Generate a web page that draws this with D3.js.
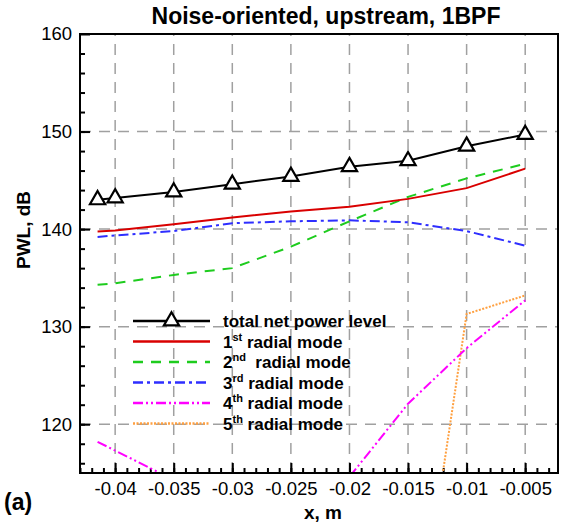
<!DOCTYPE html>
<html><head><meta charset="utf-8">
<script src="https://cdn.jsdelivr.net/npm/d3@7/dist/d3.min.js"></script>
<style>body{margin:0;background:#fff}svg{display:block;font-family:"Liberation Sans",Arial,sans-serif}</style>
</head><body>
<script>
const xs = [-0.0415, -0.04, -0.035, -0.03, -0.025, -0.02, -0.015, -0.01, -0.005];
const total = [143.0, 143.2, 143.8, 144.6, 145.4, 146.4, 147.0, 148.5, 149.7];
const mode1 = [139.75, 139.85, 140.5, 141.2, 141.8, 142.3, 143.1, 144.2, 146.2];
const mode2 = [134.3, 134.45, 135.3, 136.0, 138.2, 140.8, 143.3, 145.2, 146.7];
const mode3 = [139.2, 139.35, 139.8, 140.6, 140.8, 140.9, 140.7, 139.8, 138.3];
const mode4 = [118.2, 117.3, 114.3, 112.0, 111.0, 114.6, 122.1, 127.8, 132.7];
const mode5 = [96.0, 95.0, 93.5, 92.5, 92.0, 91.5, 91.2, 131.3, 133.2];
const xTicks = [-0.04, -0.035, -0.03, -0.025, -0.02, -0.015, -0.01, -0.005];
const xTickLabels = ["-0.04", "-0.035", "-0.03", "-0.025", "-0.02", "-0.015", "-0.01", "-0.005"];
const yTicks = [120, 130, 140, 150, 160];
const yTickLabels = ["120", "130", "140", "150", "160"];
const legendNames = [["total net power level", "", ""], ["1", "st", " radial mode"], ["2", "nd", "  radial mode"], ["3", "rd", " radial mode"], ["4", "th", " radial mode"], ["5", "th", " radial mode"]];

const W = 561, H = 523;
const L = 80, R = 558, T = 34, B = 473;
const svg = d3.select("body").append("svg").attr("width", W).attr("height", H);
const x = d3.scaleLinear().domain([-0.043, -0.0022]).range([L, R]);
const y = d3.scaleLinear().domain([115, 160]).range([B, T]);

svg.append("defs").append("clipPath").attr("id", "clip")
  .append("rect").attr("x", L).attr("y", T).attr("width", R - L).attr("height", B - T);

// grid
const grid = svg.append("g").attr("stroke", "#a0a0a0").attr("stroke-width", 1.5).attr("stroke-dasharray", "11,8");
grid.selectAll("line.vx").data(xTicks).join("line")
  .attr("x1", d => x(d)).attr("x2", d => x(d)).attr("y1", B).attr("y2", T);
grid.selectAll("line.hy").data(yTicks.filter(d => d > 115 && d < 160)).join("line")
  .attr("y1", d => y(d)).attr("y2", d => y(d)).attr("x1", L).attr("x2", R);

// axes (inward ticks)
const xMinor = d3.range(-0.043, -0.0022, 0.001).map(v => Math.round(v * 1000) / 1000).filter(v => v >= -0.043 && v <= -0.0022);
const yMinor = d3.range(116, 160, 2);
const xAxis = d3.axisBottom(x).tickValues(xTicks).tickSize(-10).tickFormat((d, i) => xTickLabels[i]).tickPadding(9);
const xAxisMinor = d3.axisBottom(x).tickValues(xMinor).tickSize(-5).tickFormat("");
const yAxis = d3.axisLeft(y).tickValues(yTicks).tickSize(-10).tickFormat((d, i) => yTickLabels[i]).tickPadding(8);
const yAxisMinor = d3.axisLeft(y).tickValues(yMinor).tickSize(-5).tickFormat("");

function styleAxis(g) {
  g.select(".domain").remove();
  g.selectAll(".tick line").attr("stroke", "#000").attr("stroke-width", 2);
  g.selectAll("text").attr("font-size", 18.5).attr("fill", "#000").attr("font-family", "Liberation Sans, Arial, sans-serif");
}
svg.append("g").attr("transform", `translate(0,${B})`).call(xAxisMinor).call(styleAxis);
svg.append("g").attr("transform", `translate(0,${B})`).call(xAxis).call(styleAxis);
svg.append("g").attr("transform", `translate(${L},0)`).call(yAxisMinor).call(styleAxis);
svg.append("g").attr("transform", `translate(${L},0)`).call(yAxis).call(styleAxis);

// series
const series = [
  { v: total, color: "#000000", dash: null, w: 2 },
  { v: mode1, color: "#d90000", dash: null, w: 2 },
  { v: mode2, color: "#1ecc1e", dash: "10,8", w: 2 },
  { v: mode3, color: "#2e2eff", dash: "10,4,3,4", w: 2 },
  { v: mode4, color: "#ff00ff", dash: "10,3,2,3,2,3", w: 2 },
  { v: mode5, color: "#ffa040", dash: "2,1.5", w: 2 }
];
const line = d3.line().x(d => x(d[0])).y(d => y(d[1]));
const plot = svg.append("g").attr("clip-path", "url(#clip)");
series.slice().reverse().forEach(s => {
  plot.append("path").datum(xs.map((xv, i) => [xv, s.v[i]]))
    .attr("d", line).attr("fill", "none").attr("stroke", s.color)
    .attr("stroke-width", s.w).attr("stroke-dasharray", s.dash);
});
const tri = d3.symbol().type(d3.symbolTriangle).size(100);
plot.selectAll("path.tri").data(xs.map((xv, i) => [xv, total[i]])).join("path")
  .attr("class", "tri").attr("d", tri)
  .attr("transform", d => `translate(${x(d[0])},${y(d[1])})`)
  .attr("fill", "#fff").attr("stroke", "#000").attr("stroke-width", 2.2);

// frame
svg.append("rect").attr("x", L).attr("y", T).attr("width", R - L).attr("height", B - T)
  .attr("fill", "none").attr("stroke", "#000").attr("stroke-width", 2);

// legend
const lg = svg.append("g");
const ly0 = 321, ldy = 20.5, lx1 = 133, lx2 = 210, ltx = 223;
series.forEach((s, i) => {
  const yy = ly0 + i * ldy;
  lg.append("line").attr("x1", lx1).attr("x2", lx2).attr("y1", yy).attr("y2", yy)
    .attr("stroke", s.color).attr("stroke-width", s.w + 0.5).attr("stroke-dasharray", s.dash);
  if (i === 0) {
    lg.append("path").attr("d", tri).attr("transform", `translate(${(lx1 + lx2) / 2},${yy})`)
      .attr("fill", "#fff").attr("stroke", "#000").attr("stroke-width", 2.2);
  }
  const t = lg.append("text").attr("x", ltx).attr("y", yy + 6).attr("font-size", 17).attr("font-weight", "bold");
  const nm = legendNames[i];
  t.append("tspan").text(nm[0]);
  if (nm[1]) {
    t.append("tspan").attr("font-size", 11).attr("dy", -7).text(nm[1]);
    t.append("tspan").attr("dy", 7).attr("xml:space", "preserve").style("white-space", "pre").text(nm[2]);
  }
});

// titles
svg.append("text").attr("x", 326).attr("y", 24).attr("text-anchor", "middle")
  .attr("font-size", 23).attr("font-weight", "bold").text("Noise-oriented, upstream, 1BPF");
svg.append("text").attr("x", 323).attr("y", 519).attr("text-anchor", "middle")
  .attr("font-size", 19).attr("font-weight", "bold").text("x, m");
svg.append("text").attr("x", 4).attr("y", 510)
  .attr("font-size", 23).attr("font-weight", "bold").text("(a)");
svg.append("text").attr("transform", "translate(30,230) rotate(-90)").attr("text-anchor", "middle")
  .attr("font-size", 19).attr("font-weight", "bold").text("PWL, dB");
</script>
</body></html>
